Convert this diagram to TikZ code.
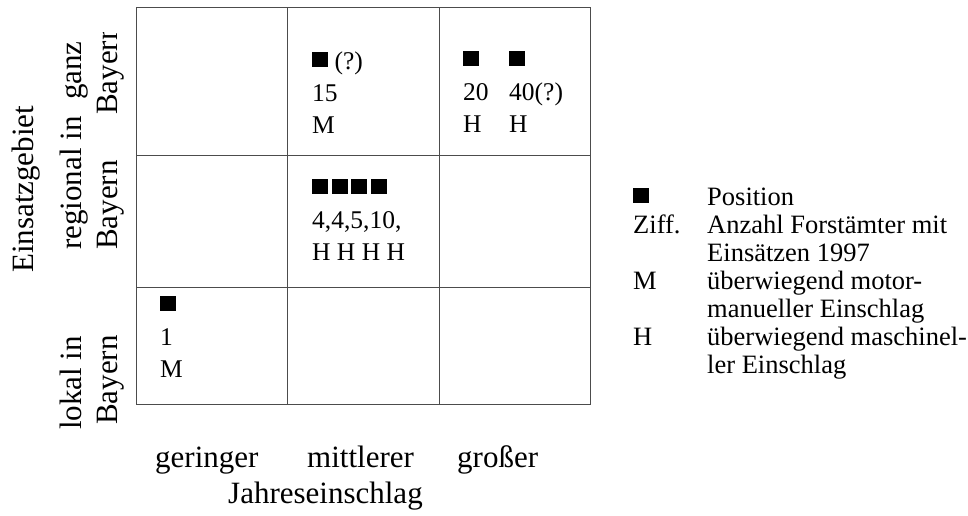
\documentclass[tikz,border=0pt]{standalone}
\usepackage{fontspec}
\setmainfont{Liberation Serif}
\usetikzlibrary{positioning}
\newcommand{\pos}{\rule[2pt]{16pt}{15pt}}
\begin{document}
\begin{tikzpicture}[x=1pt, y=-1pt, inner sep=0pt,
    gridline/.style={black!70, line width=1pt},
    axis/.style={font=\fontsize{31}{36}\selectfont, anchor=base west},
    side/.style={axis, rotate=90},
    cell/.style={font=\fontsize{25.5}{32}\selectfont, anchor=base west, align=left},
    key/.style={font=\fontsize{26.5}{28}\selectfont, anchor=base west, align=left}]

\useasboundingbox (0,0) rectangle (968,515);

% Raster
\draw [gridline] (136,7) rectangle (590,404);
\foreach \x in {287,439} \draw [gridline] (\x,7) -- (\x,404);
\foreach \y in {155,287} \draw [gridline] (136,\y) -- (590,\y);

% Einsatzgebiet
\node (einsatz) [side] at (33,273) {Einsatzgebiet};
\node (ganz) [side] at (81,100) {ganz};
\begin{scope}
\clip (88,32) rectangle (132,140);
\node (ganzB) [side] at (117,115) {Bayern};
\end{scope}
\node (regional) [side] at (81,250) {regional in};
\node (regionalB) [side] at (117,250) {Bayern};
\node (lokal) [side] at (81,430) {lokal in};
\node (lokalB) [side] at (117,425) {Bayern};

% Jahreseinschlag
\node (geringer) [axis] at (155,467) {geringer};
\node (mittlerer) [axis] at (307,467) {mittlerer};
\node (grosser) [axis] at (457,467) {großer};
\node (jahr) [axis] at (228,503) {Jahreseinschlag};

% Felder (base = letzte Zeile)
\node (c12) [cell] at (312,133) {\pos\ (?)\\15\\M};
\node (c13a) [cell] at (463,132) {\pos\\20\\H};
\node (c13b) [cell] at (509,132) {\pos\\40(?)\\H};
\node (c22) [cell] at (312,260) {\pos\hspace{3.5pt}\pos\hspace{3.5pt}\pos\hspace{3.5pt}\pos\\4,4,5,10,\\H H H H};
\node (c31) [cell] at (160,377) {\pos\\1\\M};

% Legende
\node (k1) [key] at (633,205) {\pos};
\node (k1t) [key] at (707,205) {Position};
\node (k2) [key] at (633,233) {Ziff.};
\node (k2t) [key] at (707,261) {Anzahl Forstämter mit\\Einsätzen 1997};
\node (k3) [key] at (633,289) {M};
\node (k3t) [key] at (707,317) {überwiegend motor-\\manueller Einschlag};
\node (k4) [key] at (633,345) {H};
\node (k4t) [key] at (707,373) {überwiegend maschinel-\\ler Einschlag};

\end{tikzpicture}
\end{document}
